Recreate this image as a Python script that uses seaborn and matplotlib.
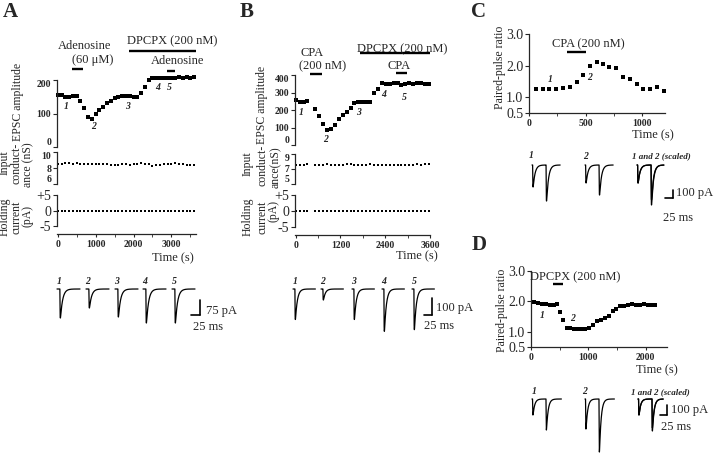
import numpy as np
import matplotlib
matplotlib.use('Agg')
import matplotlib.pyplot as plt
from matplotlib.ticker import MultipleLocator
import seaborn as sns

W, H = 720, 457

# ---- panel A : adenosine ----
time_a = [0, 100, 200, 300, 400, 500, 600, 700, 800, 900, 1000, 1100, 1200,
          1300, 1400, 1500, 1600, 1700, 1800, 1900, 2000, 2100, 2200, 2300,
          2400, 2500, 2600, 2700, 2800, 2900, 3000, 3100, 3200, 3300, 3400,
          3500, 3600]
epsc_a = [155, 155, 150, 148, 152, 153, 138, 115, 90, 85, 100, 110, 120, 131,
          138, 145, 150, 152, 153, 152, 150, 148, 160, 180, 200, 207, 205, 205,
          206, 207, 206, 205, 208, 206, 210, 207, 208]
cond_a = [8.5, 8.5, 8.6, 8.6, 8.5, 8.6, 8.5, 8.5, 8.5, 8.5, 8.5, 8.5, 8.5, 8.5,
          8.4, 8.4, 8.4, 8.5, 8.5, 8.4, 8.5, 8.5, 8.6, 8.5, 8.5, 8.3, 8.4, 8.4,
          8.5, 8.5, 8.5, 8.6, 8.5, 8.5, 8.4, 8.4, 8.4]
hold_a = [0, 0, 0, 0, 0, 0, 0, 0, 0, 0, 0, 0, 0, 0, 0, 0, 0, 0, 0, 0, 0, 0, 0,
          0, 0, 0, 0, 0, 0, 0, 0, 0, 0, 0, 0, 0, 0]
trace_amp_a = [145, 95, 140, 170, 170]

# ---- panel B : CPA ----
time_b = [0, 105, 210, 315, 525, 630, 735, 840, 945, 1050, 1155, 1260, 1365,
          1470, 1575, 1680, 1785, 1890, 1995, 2100, 2205, 2310, 2415, 2520,
          2625, 2730, 2835, 2940, 3045, 3150, 3255, 3360, 3465, 3570]
epsc_b = [258, 248, 246, 252, 205, 165, 118, 88, 90, 112, 150, 170, 188, 210,
          238, 244, 246, 246, 248, 295, 320, 355, 350, 350, 352, 355, 345, 348,
          352, 350, 352, 355, 350, 350]
cond_b = [7.6, 7.5, 7.6, 7.7, 7.6, 7.6, 7.6, 7.7, 7.5, 7.5, 7.6, 7.6, 7.7, 7.7,
          7.6, 7.5, 7.6, 7.6, 7.7, 7.6, 7.6, 7.6, 7.6, 7.6, 7.6, 7.6, 7.5, 7.5,
          7.6, 7.6, 7.7, 7.6, 7.7, 7.7]
hold_b = [0, 0, 0, 0, 0, 0, 0, 0, 0, 0, 0, 0, 0, 0, 0, 0, 0, 0, 0, 0, 0, 0, 0,
          0, 0, 0, 0, 0, 0, 0, 0, 0, 0, 0]
trace_amp_b = [180, 65, 180, 250, 240]

# ---- panel C : paired-pulse ratio, CPA ----
time_c = [60, 120, 180, 240, 300, 360, 420, 480, 540, 600, 650, 710, 770, 830,
          890, 950, 1010, 1070, 1130, 1190]
ppr_c = [1.26, 1.26, 1.26, 1.25, 1.28, 1.32, 1.48, 1.71, 1.99, 2.11, 2.05, 1.94,
         1.92, 1.65, 1.57, 1.41, 1.25, 1.25, 1.31, 1.20]
pp_c_first = [275, 225]
pp_c_second = [450, 375]
pp_c_scaled_first = [225, 225]
pp_c_scaled_second = [435, 500]

# ---- panel D : paired-pulse ratio, DPCPX ----
time_d = [58, 128, 198, 262, 331, 395, 453, 500, 560, 620, 680, 744, 814, 878,
          948, 1017, 1081, 1151, 1221, 1285, 1355, 1424, 1488, 1558, 1628, 1692,
          1762, 1831, 1895, 1965, 2035, 2105, 2169]
ppr_d = [1.97, 1.95, 1.93, 1.91, 1.87, 1.87, 1.91, 1.65, 1.40, 1.13, 1.11, 1.08,
         1.08, 1.10, 1.08, 1.13, 1.24, 1.35, 1.40, 1.46, 1.51, 1.70, 1.76, 1.84,
         1.86, 1.89, 1.91, 1.89, 1.87, 1.91, 1.89, 1.89, 1.87]
pp_d_first = [160, 300]
pp_d_second = [310, 530]
pp_d_scaled_first = [160, 160]
pp_d_scaled_second = [320, 290]

sns.set_style('ticks')
plt.rcParams['font.family'] = ['Liberation Serif', 'DejaVu Serif']
plt.rcParams['axes.linewidth'] = 0.9
plt.rcParams['xtick.major.width'] = 0.8
plt.rcParams['ytick.major.width'] = 0.8

fig = plt.figure(figsize=(W / 100, H / 100), dpi=100)

TICK = dict(fontsize=7, fontweight='bold')
LAB = 9
YLAB = 8.5


def px_axes(left, top, right, bottom):
    return fig.add_axes([left / W, 1 - bottom / H, (right - left) / W, (bottom - top) / H])


def ftext(x, y, s, **kw):
    kw.setdefault('fontsize', LAB)
    kw.setdefault('ha', 'center')
    kw.setdefault('va', 'center')
    fig.text(x / W, 1 - y / H, s, **kw)


def ylab(x, y, s):
    ftext(x, y, s, rotation=90, fontsize=YLAB)


def dots(ax, x, y, size=7):
    sns.scatterplot(x=x, y=y, ax=ax, color='black', marker='s', s=size,
                    linewidth=0, clip_on=False, legend=False)


def style_left(ax, ylim, yticks, ylabels, xlim, bottom=False):
    ax.set_xlim(xlim)
    ax.set_ylim(ylim)
    ax.set_yticks(yticks)
    labs = ax.set_yticklabels(ylabels, **TICK)
    # stacked panels share almost no room: push end labels inward
    labs[0].set_va('bottom')
    labs[-1].set_va('top')
    ax.tick_params(axis='y', length=3, pad=1.2)
    ax.set_xlabel('')
    ax.set_ylabel('')
    if bottom:
        sns.despine(ax=ax, offset={'bottom': 6})
    else:
        sns.despine(ax=ax, bottom=True)
        ax.set_xticks([])


def bar(ax, t0, t1, y):
    ax.plot([t0, t1], [y, y], color='black', lw=1.7, clip_on=False, solid_capstyle='butt')


def num(ax, x, y, s):
    ax.text(x, y, s, fontsize=7, style='italic', fontweight='bold', ha='center', va='center')


def epsc(t, amp, onset, tau_r=0.5, tau_d=6.0):
    s = np.clip(t - onset, 0, None)
    tpk = tau_r * tau_d / (tau_d - tau_r) * np.log(tau_d / tau_r)
    norm = np.exp(-tpk / tau_d) - np.exp(-tpk / tau_r)
    return -amp * (np.exp(-s / tau_d) - np.exp(-s / tau_r)) / norm


def trace_row(box, baseline, ms_px, pa_px):
    left, top, right, bottom = box
    ax = px_axes(*box)
    ax.set_xlim(0, (right - left) * ms_px)
    ax.set_ylim((baseline - bottom) * pa_px, (baseline - top) * pa_px)
    ax.axis('off')
    return ax


def draw_trace(ax, start, ms_px, firsts, seconds=None, dur=64, onset=8, gap=40):
    t = np.linspace(0, dur, 500)
    for i, a1 in enumerate(firsts):
        y = epsc(t, a1, onset)
        if seconds is not None:
            y = y + epsc(t, seconds[i], onset + gap)
        sns.lineplot(x=start * ms_px + t, y=y, ax=ax, color='black', lw=0.9,
                     estimator=None, sort=False)


def scale_bar(ax, corner, box, baseline, ms_px, pa_px, pa, label_pa, xlab, ylab_pos):
    cx = (corner[0] - box[0]) * ms_px
    cy = (baseline - corner[1]) * pa_px
    ax.plot([cx, cx], [cy, cy + pa], color='black', lw=1.2)
    ax.plot([cx - 25, cx], [cy, cy], color='black', lw=1.2)
    ftext(xlab[0], xlab[1], label_pa, ha='left')
    ftext(ylab_pos[0], ylab_pos[1], '25 ms')


# =================== panel A ===================
xl_a = (-20, 3650)
ax = px_axes(57, 80, 196, 147)
dots(ax, time_a, epsc_a)
style_left(ax, (0, 200), [0, 100, 200], ['0', '100', '200'], xl_a)
bar(ax, 380, 670, 233)
bar(ax, 1870, 3640, 287)
bar(ax, 2890, 3090, 227)
for lab, tx, vy in zip(['1', '2', '3', '4', '5'], [211, 952, 1850, 2645, 2935], [122, 60, 122, 179, 179]):
    num(ax, tx, vy, lab)
ftext(85, 46, 'Adenosine')
ftext(93, 60, '(60 μM)')
ftext(172, 41, 'DPCPX (200 nM)')
ftext(178, 61, 'Adenosine')

ax = px_axes(57, 152, 196, 184)
dots(ax, time_a, cond_a, size=4)
style_left(ax, (6, 10), [6, 8, 10], ['6', '8', '10'], xl_a)

ax = px_axes(57, 195, 196, 226)
dots(ax, time_a, hold_a, size=4)
style_left(ax, (-5, 5), [-5, 0, 5], ['-5', '0', '+5'], xl_a, bottom=True)
ax.set_xticks([0, 1000, 2000, 3000])
ax.set_xticklabels(['0', '1000', '2000', '3000'], **TICK)
ax.xaxis.set_minor_locator(MultipleLocator(500))
ax.tick_params(axis='x', which='both', length=2, pad=2)
ftext(173, 258, 'Time (s)')

ylab(18, 102, 'EPSC amplitude')
ylab(5, 163, 'Input')
ylab(17, 163, 'conduct-')
ylab(28, 165, 'ance (nS)')
ylab(5, 217, 'Holding')
ylab(17, 217, 'current')
ylab(28, 216, '(pA)')

box = (50, 270, 250, 340)
ax = trace_row(box, 289, 2.78, 5.0)
for lab, st, amp in zip(['1', '2', '3', '4', '5'], [57, 86, 115, 143, 172], trace_amp_a):
    draw_trace(ax, st - box[0], 2.78, [amp])
    ftext(st + 2, 281, lab, fontsize=7, style='italic', fontweight='bold')
scale_bar(ax, (200, 315), box, 289, 2.78, 5.0, 75, '75 pA', (206, 311), (208, 327))

# =================== panel B ===================
xl_b = (-20, 3600)
ax = px_axes(295, 75, 430, 145)
dots(ax, time_b, epsc_b)
style_left(ax, (0, 400), [0, 100, 200, 300, 400], ['0', '100', '200', '300', '400'], xl_b)
bar(ax, 373, 693, 406)
bar(ax, 1730, 3600, 526)
bar(ax, 2690, 2990, 411)
for lab, tx, vy in zip(['1', '2', '3', '4', '5'], [133, 800, 1680, 2347, 2907], [183, 29, 183, 291, 274]):
    num(ax, tx, vy, lab)
ftext(312, 53, 'CPA')
ftext(323, 66, '(200 nM)')
ftext(402, 49, 'DPCPX (200 nM)')
ftext(399, 66, 'CPA')

ax = px_axes(295, 154, 430, 184)
dots(ax, time_b, cond_b, size=4)
style_left(ax, (5, 9), [5, 7, 9], ['5', '7', '9'], xl_b)

ax = px_axes(295, 195, 430, 227)
dots(ax, time_b, hold_b, size=4)
style_left(ax, (-5, 5), [-5, 0, 5], ['-5', '0', '+5'], xl_b, bottom=True)
ax.set_xticks([0, 1200, 2400, 3600])
ax.set_xticklabels(['0', '1200', '2400', '3600'], **TICK)
ax.xaxis.set_minor_locator(MultipleLocator(600))
ax.tick_params(axis='x', which='both', length=2, pad=2)
ftext(417, 256, 'Time (s)')

ylab(262, 105, 'EPSC amplitude')
ylab(248, 164, 'Input')
ylab(262, 165, 'conduct-')
ylab(276, 167, 'ance(nS)')
ylab(248, 217, 'Holding')
ylab(262, 217, 'current')
ylab(274, 211, '(pA)')

box = (288, 270, 480, 345)
ax = trace_row(box, 289, 3.125, 5.9)
for lab, st, amp in zip(['1', '2', '3', '4', '5'], [293, 321, 352, 382, 412], trace_amp_b):
    draw_trace(ax, st - box[0], 3.125, [amp], dur=70, onset=6)
    ftext(st + 2, 281, lab, fontsize=7, style='italic', fontweight='bold')
scale_bar(ax, (432, 315), box, 289, 3.125, 5.9, 100, '100 pA', (436, 308), (439, 326))

# =================== panel C ===================
ax = px_axes(529, 34, 665, 113)
dots(ax, time_c, ppr_c, size=9)
style_left(ax, (0.5, 3.0), [0.5, 1.0, 2.0, 3.0], ['0.5', '1.0', '2.0', '3.0'], (0, 1200), bottom=True)
sns.despine(ax=ax, offset=0)
ax.set_xticks([0, 500, 1000])
ax.set_xticklabels(['0', '500', '1000'], **TICK)
ax.xaxis.set_minor_locator(MultipleLocator(250))
ax.tick_params(axis='x', which='both', length=2, pad=2)
bar(ax, 331, 503, 2.42)
num(ax, 185, 1.56, '1')
num(ax, 530, 1.63, '2')
ftext(588, 44, 'CPA (200 nM)')
ftext(653, 135, 'Time (s)')
ylab(500, 67, 'Paired-pulse ratio')

box = (525, 150, 720, 230)
ax = trace_row(box, 165, 3.125, 12.5)
draw_trace(ax, 532 - box[0], 3.125, [pp_c_first[0]], [pp_c_second[0]], dur=88, onset=2, gap=42)
draw_trace(ax, 585 - box[0], 3.125, [pp_c_first[1]], [pp_c_second[1]], dur=88, onset=2, gap=42)
draw_trace(ax, 637 - box[0], 3.125, pp_c_scaled_first, pp_c_scaled_second, dur=84, onset=2, gap=42)
ftext(531, 156, '1', fontsize=7, style='italic', fontweight='bold')
ftext(586, 157, '2', fontsize=7, style='italic', fontweight='bold')
ftext(661, 156, '1 and 2 (scaled)', fontsize=6.5, style='italic', fontweight='bold')
scale_bar(ax, (673, 198), box, 165, 3.125, 12.5, 100, '100 pA', (676, 193), (678, 218))

# =================== panel D ===================
ax = px_axes(531, 271, 667, 347)
dots(ax, time_d, ppr_d, size=9)
style_left(ax, (0.5, 3.0), [0.5, 1.0, 2.0, 3.0], ['0.5', '1.0', '2.0', '3.0'], (0, 2370), bottom=True)
sns.despine(ax=ax, offset=0)
ax.set_xticks([0, 1000, 2000])
ax.set_xticklabels(['0', '1000', '2000'], **TICK)
ax.xaxis.set_minor_locator(MultipleLocator(500))
ax.tick_params(axis='x', which='both', length=2, pad=2)
bar(ax, 378, 564, 2.57)
num(ax, 192, 1.55, '1')
num(ax, 732, 1.45, '2')
ftext(575, 277, 'DPCPX (200 nM)')
ftext(657, 370, 'Time (s)')
ylab(502, 310, 'Paired-pulse ratio')

box = (525, 385, 720, 457)
ax = trace_row(box, 399, 3.57, 10.0)
draw_trace(ax, 532 - box[0], 3.57, [pp_d_first[0]], [pp_d_second[0]], dur=105, onset=2, gap=48)
draw_trace(ax, 585 - box[0], 3.57, [pp_d_first[1]], [pp_d_second[1]], dur=105, onset=2, gap=48)
draw_trace(ax, 638 - box[0], 3.57, pp_d_scaled_first, pp_d_scaled_second, dur=90, onset=2, gap=48)
ftext(534, 392, '1', fontsize=7, style='italic', fontweight='bold')
ftext(585, 392, '2', fontsize=7, style='italic', fontweight='bold')
ftext(660, 392, '1 and 2 (scaled)', fontsize=6.5, style='italic', fontweight='bold')
scale_bar(ax, (667, 415), box, 399, 3.57, 10.0, 100, '100 pA', (671, 410), (676, 427))

# panel letters
for lab, x, y in [('A', 10, 12), ('B', 247, 12), ('C', 479, 12), ('D', 479, 245)]:
    ftext(x, y, lab, fontsize=15, fontweight='bold')

fig.savefig('out.png', dpi=100)
